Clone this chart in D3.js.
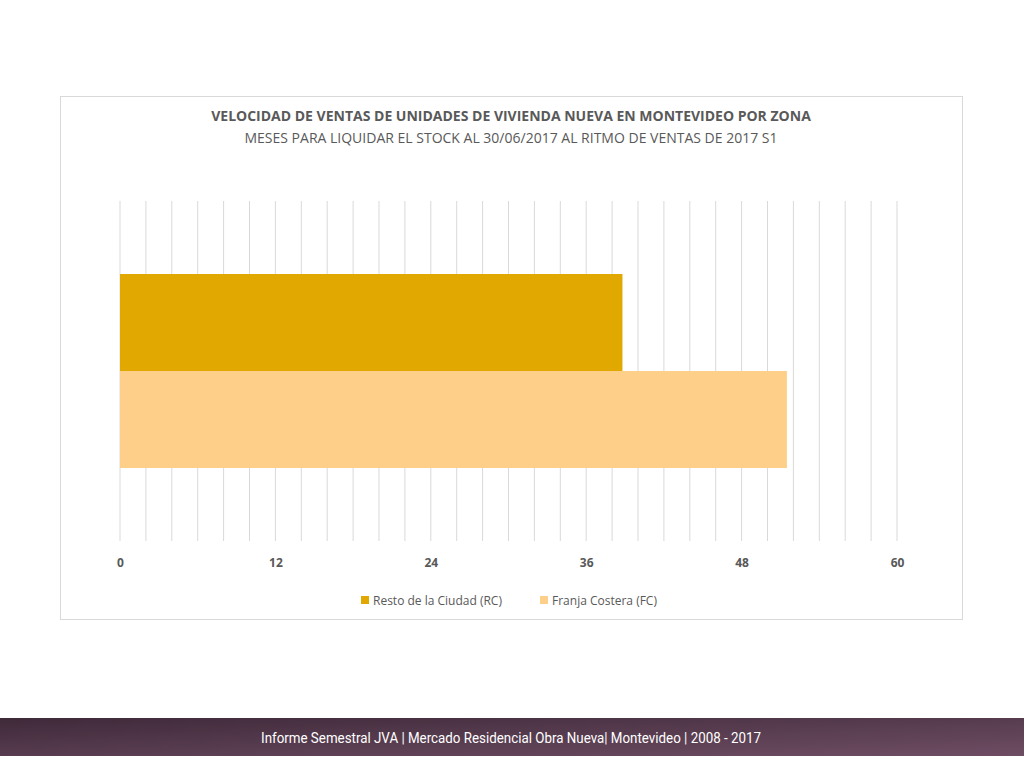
<!DOCTYPE html>
<html><head><meta charset="utf-8">
<script src="https://cdn.jsdelivr.net/npm/d3@7"></script>
<style>body{margin:0;background:#fff}svg{display:block}</style>
</head><body><svg id="c" width="1024" height="768"></svg>
<script>
const categories = ["Resto de la Ciudad (RC)", "Franja Costera (FC)"];
const values = [38.8, 51.5];
const colors = ["#E0A800", "#FECF88"];
const tickValues = [0, 12, 24, 36, 48, 60];
const titleLines = ["VELOCIDAD DE VENTAS DE UNIDADES DE VIVIENDA NUEVA EN MONTEVIDEO POR ZONA",
  "MESES PARA LIQUIDAR EL STOCK AL 30/06/2017 AL RITMO DE VENTAS DE 2017 S1"];
const footerText = "Informe Semestral JVA | Mercado Residencial Obra Nueva| Montevideo | 2008 - 2017";

const svg = d3.select("#c");
const font = "'Open Sans', 'Noto Sans', sans-serif";
svg.append("rect").attr("x",60.5).attr("y",96.5).attr("width",902).attr("height",523)
  .attr("fill","#fff").attr("stroke","#d9d9d9");
svg.append("text").attr("x",511).attr("y",121).attr("text-anchor","middle")
  .attr("font-family",font).attr("font-weight","bold").attr("font-size",14).attr("fill","#595959").text(titleLines[0]);
svg.append("text").attr("x",511).attr("y",143).attr("text-anchor","middle")
  .attr("font-family",font).attr("font-size",14).attr("fill","#595959").text(titleLines[1]);

const x = d3.scaleLinear().domain([0,60]).range([120,897]);
const y = d3.scaleBand().domain(categories).range([274,468]).padding(0);
const g = svg.append("g");
g.selectAll("line.grid").data(d3.range(0,61,2)).join("line")
  .attr("x1",d=>x(d)).attr("x2",d=>x(d)).attr("y1",201).attr("y2",541)
  .attr("stroke","#d9d9d9").attr("stroke-width",1);
g.selectAll("rect.bar").data(categories).join("rect")
  .attr("x",x(0)).attr("y",d=>y(d)).attr("height",y.bandwidth())
  .attr("width",(d,i)=>x(values[i])-x(0)).attr("fill",(d,i)=>colors[i]);
const ax = svg.append("g").attr("transform","translate(0,560)")
  .call(d3.axisBottom(x).tickValues(tickValues).tickSize(0));
ax.select(".domain").remove();
ax.selectAll("text").attr("font-family",font).attr("font-size",12).attr("font-weight","bold").attr("fill","#595959").attr("dy","0.3em");

const legX = [361, 540];
categories.forEach((c,i)=>{
  svg.append("rect").attr("x",legX[i]).attr("y",596).attr("width",8).attr("height",8).attr("fill",colors[i]);
  svg.append("text").attr("x",legX[i]+12).attr("y",604.5).attr("font-family",font).attr("font-size",12)
    .attr("fill","#595959").text(c);
});

const defs = svg.append("defs");
const lg = defs.append("linearGradient").attr("id","fg").attr("x1","0").attr("x2","1").attr("y1","0").attr("y2","1");
lg.append("stop").attr("offset","0").attr("stop-color","#3f2a3a");
lg.append("stop").attr("offset","1").attr("stop-color","#6e4d63");
svg.append("rect").attr("x",0).attr("y",718).attr("width",1024).attr("height",38).attr("fill","url(#fg)");
svg.append("text").attr("x",511).attr("y",743).attr("text-anchor","middle")
  .attr("font-family","'Liberation Sans Narrow', 'Roboto', sans-serif").attr("font-size",15)
  .attr("fill","#fff").attr("textLength",500).attr("lengthAdjust","spacingAndGlyphs").text(footerText);
</script></body></html>
